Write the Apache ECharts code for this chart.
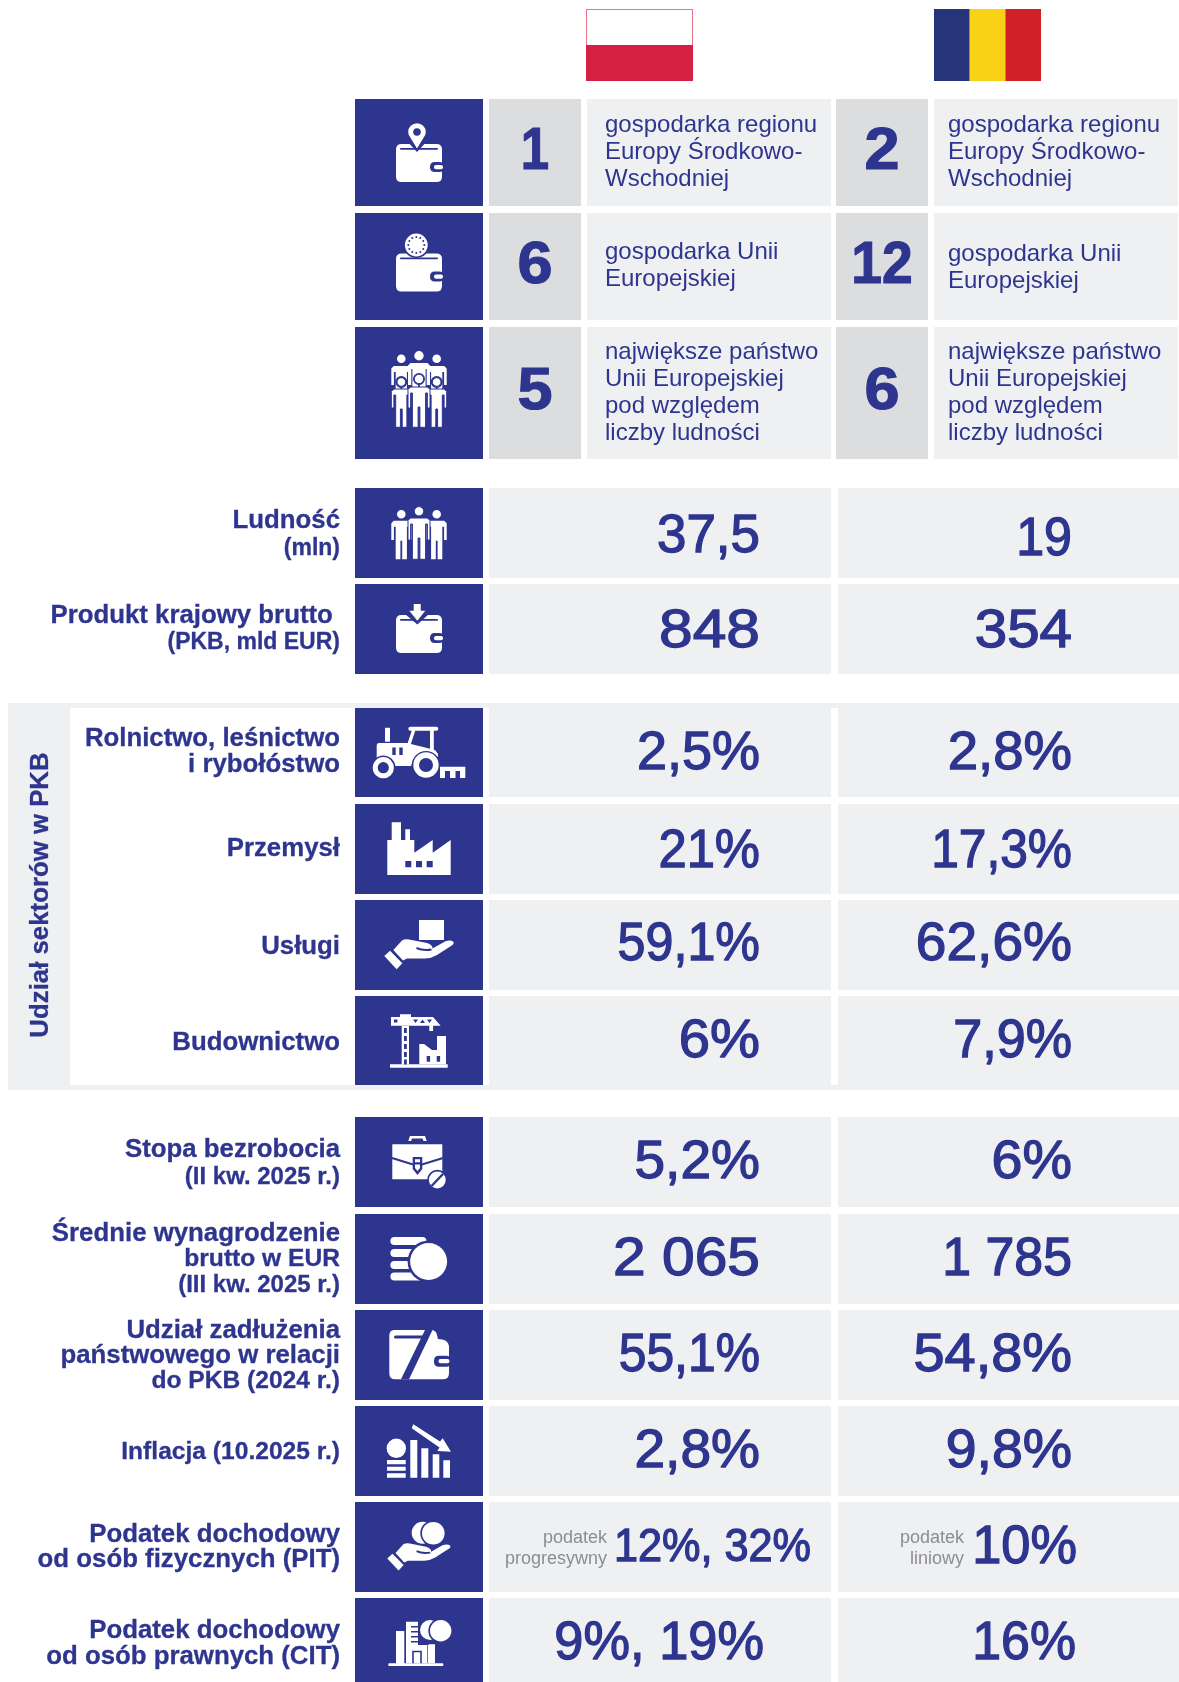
<!DOCTYPE html>
<html lang="pl">
<head>
<meta charset="utf-8">
<title>Polska i Rumunia</title>
<style>
html,body{margin:0;padding:0;background:#fff;}
#chart{width:1179px;height:1682px;}
</style>
<script src="https://cdn.jsdelivr.net/npm/echarts@6/dist/echarts.min.js"></script>
</head>
<body>
<div id="chart"></div>
<script>
// ---- data ----
var polandRanks=['1','6','5'];
var romaniaRanks=['2','12','6'];
var polandRankNotes=['gospodarka regionu\nEuropy Środkowo-\nWschodniej','gospodarka Unii\nEuropejskiej','największe państwo\nUnii Europejskiej\npod względem\nliczby ludności'];
var romaniaRankNotes=['gospodarka regionu\nEuropy Środkowo-\nWschodniej','gospodarka Unii\nEuropejskiej','największe państwo\nUnii Europejskiej\npod względem\nliczby ludności'];
var metricLabels=[
    'Ludność\n(mln)',
    'Produkt krajowy brutto \n(PKB, mld EUR)',
    'Rolnictwo, leśnictwo\ni rybołóstwo',
    'Przemysł',
    'Usługi',
    'Budownictwo',
    'Stopa bezrobocia\n(II kw. 2025 r.)',
    'Średnie wynagrodzenie\nbrutto w EUR\n(III kw. 2025 r.)',
    'Udział zadłużenia\npaństwowego w relacji\ndo PKB (2024 r.)',
    'Inflacja (10.2025 r.)',
    'Podatek dochodowy\nod osób fizycznych (PIT)',
    'Podatek dochodowy\nod osób prawnych (CIT)'
];
var polandValues=['37,5','848','2,5%','21%','59,1%','6%','5,2%','2 065','55,1%','2,8%','12%, 32%','9%, 19%'];
var romaniaValues=['19','354','2,8%','17,3%','62,6%','7,9%','6%','1 785','54,8%','9,8%','10%','16%'];
var polandTaxNotes={10:'podatek\nprogresywny'};
var romaniaTaxNotes={10:'podatek\nliniowy'};
var sectorTitle='Udział sektorów w PKB';

// ---- layout ----
var W=1179,H=1682;
var NAVY='#2e358f',CELL='#eff0f2',RANK='#dcdddf',WHITE='#ffffff',GREY='#8c8d90';
var FAMILY='"Liberation Sans",Arial,sans-serif';
var rankTops=[99,213,327],rankBottoms=[206,320,459];
var metricTops=[488,584,708,804,900,996,1117,1214,1310,1406,1502,1598];
var metricBottoms=[578,674,797,894,990,1085,1207,1304,1400,1496,1592,1682];
var labelLine=[27.5,27,26,26,26,26,27.5,25.5,25.5,26,25.5,26];
var labelDy=[2,0,-1,0,2,2,2,0.5,1,1,0.5,1];
var polandRight=[760,760,760,760,760,760,760,760,760,760,811,764];
var romaniaRight=[1072,1072,1072,1072,1072,1072,1072,1072,1072,1072,1077,1076];
var polandDy=[4,3,2,3,0,1.5,1.5,1.5,1,1,1,1];
var romaniaDy=[7,3,2,3,0,1.5,1.5,1.5,1,1,1,1];
var polandStretch=[0.98,1.12,1,0.94,0.93,1.04,1.02,1.087,0.923,1.02,0.94,0.97];
var romaniaStretch=[0.93,1.08,1.01,0.92,1.02,0.965,1.03,0.96,1.035,1.026,0.97,0.96];
var polandFontSize=[54,54,54,54,54,54,54,54,54,54,46,54];
var polandNoteDy=[0,-1,0],romaniaNoteDy=[0,1,0];

// ---- icon helpers, drawn in cell pixels from the cell's top left ----
function rr(x,y,w,h,r){
    return 'M'+(x+r)+' '+y+'L'+(x+w-r)+' '+y+'Q'+(x+w)+' '+y+' '+(x+w)+' '+(y+r)+'L'+(x+w)+' '+(y+h-r)+'Q'+(x+w)+' '+(y+h)+' '+(x+w-r)+' '+(y+h)+'L'+(x+r)+' '+(y+h)+'Q'+x+' '+(y+h)+' '+x+' '+(y+h-r)+'L'+x+' '+(y+r)+'Q'+x+' '+y+' '+(x+r)+' '+y+'Z';
}
function circ(x,y,r){
    return 'M'+(x-r)+' '+y+'A'+r+' '+r+' 0 1 1 '+(x+r)+' '+y+'A'+r+' '+r+' 0 1 1 '+(x-r)+' '+y+'Z';
}
function poly(p){
    var s='M'+p[0]+' '+p[1];
    for(var i=2;i<p.length;i+=2){s+='L'+p[i]+' '+p[i+1];}
    return s+'Z';
}
function wallet(y){
    return [
        {c:WHITE,d:rr(41,y,46,38,5.5)},
        {c:NAVY,d:rr(45,y+4,38,1.8,0.8)},
        {c:NAVY,d:rr(75,y+18,14,10,4.8)},
        {c:WHITE,d:rr(79,y+21,9,4.2,2)}
    ];
}
function person(cx,head,r,sy,fy,hw,arm){
    var d=circ(cx,head,r);
    d+=poly([cx-hw,sy+2.5,cx-hw+2.5,sy,cx+hw-2.5,sy,cx+hw,sy+2.5,cx+hw,arm,cx+hw-2.6,arm,cx+hw-2.6,sy+6,cx+hw-4.4,sy+6,cx+hw-4.4,fy,cx+0.9,fy,cx+0.9,sy+20,cx-0.9,sy+20,cx-0.9,fy,cx-hw+4.4,fy,cx-hw+4.4,sy+6,cx-hw+2.6,sy+6,cx-hw+2.6,arm,cx-hw,arm]);
    return d;
}
function hand(x,y,s){
    return [
        {c:WHITE,x:x,y:y,s:s,d:poly([29.3,56,35,50.7,47.3,63.3,41.7,69.3])},
        {c:WHITE,x:x,y:y,s:s,d:'M38.3 50L47 40.5Q50 38.5 54 39.5L72 43Q78 45 77.5 48.5L90 41.5Q96 39.5 98.5 42Q99.5 44 96 46L82 55Q76 58.5 70 58.5L52 58.5L48 60.5Z'},
        {c:'none',x:x,y:y,s:s,stroke:NAVY,w:2,d:'M61.5 48Q68 51 76.5 49.5'}
    ];
}
function euroDots(cx,cy,r){
    var d='';
    for(var i=0;i<12;i++){
        var a=i/12*Math.PI*2;
        d+=circ(cx+Math.cos(a)*r,cy+Math.sin(a)*r,1);
    }
    return d;
}
var iconWalletPin=wallet(45).concat([
    {c:NAVY,d:poly([50,40,74,40,62,53])},
    {c:WHITE,d:circ(62,33,8.8)+poly([53.8,36,70.2,36,62,49.5])},
    {c:NAVY,d:circ(62,33,3.8)}
]);
var iconWalletEuro=wallet(40.5).concat([
    {c:NAVY,d:circ(61.3,32,13)},
    {c:WHITE,d:circ(61.3,32,11.4)},
    {c:NAVY,d:euroDots(61.3,32,8)}
]);
var iconCrowd=[
    {c:WHITE,d:person(46.3,31.7,4.3,39,64,10,58)+person(81.7,31.7,4.3,39,64,10,58)+person(64,28.7,4.7,36,64,11,58)},
    {c:NAVY,d:circ(46.3,55,6)+circ(64,52,6)+circ(81.7,55,6)},
    {c:WHITE,stroke:NAVY,w:1,d:person(46.3,55,4.3,62,100.3,10,81)},
    {c:WHITE,stroke:NAVY,w:1,d:person(81.7,55,4.3,62,100.3,10,81)},
    {c:WHITE,stroke:NAVY,w:1,d:person(64,52,4.7,60,100.3,11,81)}
];
var iconPeople=[
    {c:WHITE,d:person(46.3,26.3,4.3,32.7,71.3,10,52)+person(81.7,26.3,4.3,32.7,71.3,10,52)},
    {c:WHITE,stroke:NAVY,w:1,d:person(64,23.3,4.7,30,71.3,11,52)}
];
var iconWalletArrow=wallet(31).concat([
    {c:NAVY,d:poly([50,30,74,30,62.3,40.5])},
    {c:WHITE,d:poly([58.7,20,65.7,20,65.7,26.7,70.3,26.7,62.3,36.7,54.3,26.7,58.7,26.7])}
]);
var iconTractor=[
    {c:WHITE,d:rr(30,19.7,5,14,0.5)+rr(53.3,18.7,30,4,2)+poly([57,22,60.5,22,55.5,37,52,37])+rr(75,22,3.8,20,0)},
    {c:WHITE,d:'M24 35L52 35L80 42L83 46L83 49L76 45L66 44L58 52L56 58L24 58Q21.7 58 21.7 55L21.7 38Q21.7 35 24 35Z'},
    {c:NAVY,d:rr(37.3,39.5,3.4,7.5,0)+rr(44.3,39.5,3.4,7.5,0)},
    {c:NAVY,d:circ(28.3,59.7,12.2)+circ(71,57,14)},
    {c:WHITE,d:circ(28.3,59.7,10.6)+circ(71,57,12.7)},
    {c:NAVY,d:circ(28.3,59.7,5.6)+circ(71,57,7)},
    {c:WHITE,d:poly([85,58.7,110.3,58.7,110.3,70,105,70,105,63,100.5,63,100.5,70,95,70,95,63,90,63,90,70,85,70])}
];
var iconFactory=[
    {c:WHITE,d:poly([32.3,71,32.3,36,36.7,36,36.7,18.3,46,18.3,46,36,50.3,36,50.3,25.3,55,25.3,55,36,59.3,36,59.3,48.7,77.7,36,77.7,48.7,95.7,36,95.7,71])},
    {c:NAVY,d:rr(50.3,57,6,6.3,0)+rr(61,57,6,6.3,0)+rr(71.7,57,6,6.3,0)}
];
var iconHandBox=[{c:WHITE,d:rr(64,20,25,20,0)}].concat(hand(0,0,1));
var iconCrane=[
    {c:WHITE,d:rr(35,68.3,57.7,3.4,0)},
    {c:WHITE,d:rr(46.7,30,7.3,38.5,0)},
    {c:NAVY,d:rr(49,32,2.8,5,0)+rr(49,40,2.8,5,0)+rr(49,48,2.8,5,0)+rr(49,56,2.8,5,0)+rr(49,63.5,2.8,5,0)},
    {c:WHITE,d:poly([36,21,45,21,45,18.3,56,18.3,56,21,78,21,85.7,29.7,36,29.7])},
    {c:NAVY,d:rr(39,23.5,3.4,3,0)+poly([58,23.5,63,23.5,60.5,27])+poly([65,27,70,27,67.5,23.5])+poly([72,23.5,77,23.5,74.5,27])},
    {c:WHITE,d:rr(74.3,29,3.8,6,0)},
    {c:WHITE,d:poly([64.3,68.3,64.3,48,69,48,77,54,82,54,82,40,91,40,91,68.3])},
    {c:NAVY,d:rr(71.7,60,3.4,5.7,0)+rr(81.7,60,3.4,5.7,0)}
];
var iconBriefcase=[
    {c:WHITE,d:poly([53.3,24,55,19,70,19,71.7,24,68.5,24,67.5,21.5,57,21.5,56,24])},
    {c:WHITE,d:rr(37.3,27.3,50,35,0)},
    {c:'none',stroke:NAVY,w:2,d:'M37 41L58 47.5M67 47.5L88 41'},
    {c:NAVY,d:poly([57.7,40,67.3,40,67.3,52,62.5,58,57.7,52])},
    {c:WHITE,d:rr(60,42.3,5,3,0)+poly([60,47.5,65,47.5,65,51,62.5,54,60,51])},
    {c:NAVY,d:circ(82.3,63,10.2)},
    {c:WHITE,d:circ(82.3,63,8.4)},
    {c:'none',stroke:NAVY,w:2.4,d:'M76.5 69L88 57'}
];
var iconCoins=[
    {c:WHITE,d:rr(35.4,23,36,8,4)+rr(35.4,35,36,8,4)+rr(35.4,47,36,8,4)+rr(35.4,58.5,36,8,4)},
    {c:NAVY,d:circ(73.6,47.5,21)},
    {c:WHITE,d:circ(73.6,47.5,18.5)}
];
var iconDebtWallet=[
    {c:WHITE,d:'M39 20L76 20Q81 20 82 25L83 29Q93 29 94 36L94 63Q94 69.3 88 69.3L40 69.3Q34.3 69.3 34.3 63L34.3 26Q34.3 20 39 20Z'},
    {c:NAVY,d:poly([70,20,77.5,20,54,69.3,46,69.3])},
    {c:NAVY,d:rr(39,25.6,30,3,1.5)},
    {c:NAVY,d:rr(79,45.7,17,11,5)},
    {c:WHITE,d:rr(83.5,49,11,4.2,2)}
];
var iconInflation=[
    {c:WHITE,d:circ(41.3,42.3,9.7)+rr(32,54,18.7,4.3,0)+rr(32,60.7,18.7,4,0)+rr(32,67.3,18.7,4.4,0)},
    {c:WHITE,d:rr(55.3,34,7,37.7,0)+rr(66.3,42.3,7,29.4,0)+rr(77.7,48.3,6.6,23.4,0)+rr(88.3,54.3,6.7,17.4,0)},
    {c:WHITE,d:poly([58.3,18.3,85,35.5,87.7,32.3,96,45.7,82.3,45,84.5,41.5,56.7,22.3])}
];
var iconPit=[
    {c:WHITE,d:circ(67.7,30.7,11)},
    {c:NAVY,d:circ(78.3,31.3,13)},
    {c:WHITE,d:circ(78.3,31.3,11.3)}
].concat(hand(5.6,5.5,0.91));
var iconCit=[
    {c:WHITE,d:rr(33.3,65.3,55,2.7,1)+rr(41,33,8.3,32.5,0)},
    {c:WHITE,d:rr(51,23.7,12,41.6,0)+rr(51,47,21,18.3,0)+rr(72.7,46.3,7.3,19,0)},
    {c:NAVY,d:rr(56,28,7,1.6,0)+rr(56,33,7,1.6,0)+rr(56,38,7,1.6,0)+rr(56,43,7,1.6,0)+rr(64,45,10,1.6,0)},
    {c:'none',stroke:NAVY,w:1.6,d:'M58 65.3L58 53.5L66 53.5L66 65.3'},
    {c:WHITE,d:circ(75,32,10)},
    {c:NAVY,d:circ(85.7,32.7,12.4)},
    {c:WHITE,d:circ(85.7,32.7,10.7)}
];
var rankIcons=[iconWalletPin,iconWalletEuro,iconCrowd];
var metricIcons=[iconPeople,iconWalletArrow,iconTractor,iconFactory,iconHandBox,iconCrane,iconBriefcase,iconCoins,iconDebtWallet,iconInflation,iconPit,iconCit];

// ---- drawing pieces ----
function box(api,x0,y0,x1,y1,color){
    var a=api.coord([x0,y0]),b=api.coord([x1,y1]);
    return {type:'rect',shape:{x:a[0],y:a[1],width:b[0]-a[0],height:b[1]-a[1]},style:{fill:color},silent:true};
}
function label(api,x,y,text,font,color,align,heavy,stretch){
    var p=api.coord([x,y]);
    var style={text:text,font:font,fill:color,align:align,verticalAlign:'middle'};
    if(heavy){style.stroke=color;style.lineWidth=heavy;}
    return {type:'text',x:p[0],y:p[1],scaleX:stretch||1,style:style,silent:true};
}
function lines(api,x,yMid,text,lh,font,color,align,heavy){
    var parts=text.split('\n'),out=[];
    for(var i=0;i<parts.length;i++){
        var f=typeof font==='function'?font(parts[i]):font;
        out.push(label(api,x,yMid+(i-(parts.length-1)/2)*lh,parts[i],f,color,align,heavy));
    }
    return out;
}
function icon(api,list,top){
    var origin=api.coord([355,top]);
    var kids=list.map(function(e){
        return {
            type:'path',
            x:(e.x||0),y:(e.y||0),scaleX:e.s||1,scaleY:e.s||1,
            shape:{pathData:e.d},
            style:{fill:e.c,stroke:e.stroke||null,lineWidth:e.w||0},
            silent:true
        };
    });
    return {type:'group',x:origin[0],y:origin[1],children:kids};
}
function labelFont(line){
    if(/^\(I+ kw/.test(line)){return 'bold 24px '+FAMILY;}
    if(line.charAt(0)==='('){return 'bold 23px '+FAMILY;}
    if(/\(\d/.test(line)||/EUR$/.test(line)){return 'bold 24.6px '+FAMILY;}
    return 'bold 25.8px '+FAMILY;
}

function renderFlags(params,api){
    return {type:'group',children:[
        box(api,586,9,693,81,'#e8758c'),
        box(api,587,10,692,45,WHITE),
        box(api,586,45,693,81,'#d62041'),
        box(api,934,9,969.7,81,'#26357a'),
        box(api,969.7,9,1005.4,81,'#fad215'),
        box(api,1005.4,9,1041,81,'#d12027')
    ]};
}
function renderFrame(params,api){
    var p=api.coord([41,895]);
    return {type:'group',children:[
        box(api,8,703,W,1090,CELL),
        box(api,70,708,W,1085,WHITE),
        {type:'text',x:p[0],y:p[1],rotation:Math.PI/2,style:{text:sectorTitle,font:'bold 25.8px '+FAMILY,fill:NAVY,stroke:NAVY,lineWidth:0.3,align:'center',verticalAlign:'middle'},silent:true}
    ]};
}
function renderRank(params,api){
    var i=api.value(0),t=rankTops[i],b=rankBottoms[i],mid=(t+b)/2;
    var kids=[
        box(api,355,t,483,b,NAVY),
        icon(api,rankIcons[i],t),
        box(api,489,t,581,b,RANK),
        box(api,587,t,831,b,CELL),
        box(api,836,t,928,b,RANK),
        box(api,934,t,W-1,b,CELL),
        label(api,535,mid-0.5,polandRanks[i],'bold 60px '+FAMILY,NAVY,'center',1.2,i===0?0.85:1.05),
        label(api,882,mid-0.5,romaniaRanks[i],'bold 60px '+FAMILY,NAVY,'center',1.2,i===1?0.92:1.05)
    ];
    kids=kids.concat(lines(api,605,mid+polandNoteDy[i],polandRankNotes[i],27,'24px '+FAMILY,NAVY,'left'));
    kids=kids.concat(lines(api,948,mid+romaniaNoteDy[i],romaniaRankNotes[i],27,'24px '+FAMILY,NAVY,'left'));
    return {type:'group',children:kids};
}
function renderMetric(params,api){
    var i=api.value(0),t=metricTops[i],b=metricBottoms[i],mid=(t+metricBottoms[i])/2;
    if(i===11){mid=1643;}
    var kids=[
        box(api,355,t,483,b,NAVY),
        icon(api,metricIcons[i],t),
        box(api,489,t,831,b,CELL),
        box(api,838,t,W,b,CELL),
        label(api,polandRight[i],mid+polandDy[i],polandValues[i],polandFontSize[i]+'px '+FAMILY,NAVY,'right',1.3,polandStretch[i]),
        label(api,romaniaRight[i],mid+romaniaDy[i],romaniaValues[i],'54px '+FAMILY,NAVY,'right',1.3,romaniaStretch[i])
    ];
    kids=kids.concat(lines(api,340,mid+labelDy[i],metricLabels[i],labelLine[i],labelFont,NAVY,'right',0.3));
    if(polandTaxNotes[i]){kids=kids.concat(lines(api,607,mid+1.5,polandTaxNotes[i],21,'18px '+FAMILY,GREY,'right'));}
    if(romaniaTaxNotes[i]){kids=kids.concat(lines(api,964,mid+1.5,romaniaTaxNotes[i],21,'18px '+FAMILY,GREY,'right'));}
    return {type:'group',children:kids};
}
function indexData(list){
    return list.map(function(v,i){return [i];});
}

var chart=echarts.init(document.getElementById('chart'),null,{renderer:'canvas'});
chart.setOption({
    animation:false,
    backgroundColor:'#ffffff',
    tooltip:{show:false},
    grid:{left:0,right:0,top:0,bottom:0},
    xAxis:{type:'value',min:0,max:W,show:false},
    yAxis:{type:'value',min:0,max:H,inverse:true,show:false},
    series:[
        {type:'custom',name:'flagi',clip:false,renderItem:renderFlags,data:[[0]],encode:{x:0,y:0}},
        {type:'custom',name:'ramka',clip:false,renderItem:renderFrame,data:[[0]],encode:{x:0,y:0}},
        {type:'custom',name:'rankingi',clip:false,renderItem:renderRank,data:indexData(polandRanks),encode:{x:0,y:0}},
        {type:'custom',name:'wskazniki',clip:false,renderItem:renderMetric,data:indexData(metricLabels),encode:{x:0,y:0}}
    ]
});
</script>
</body>
</html>
